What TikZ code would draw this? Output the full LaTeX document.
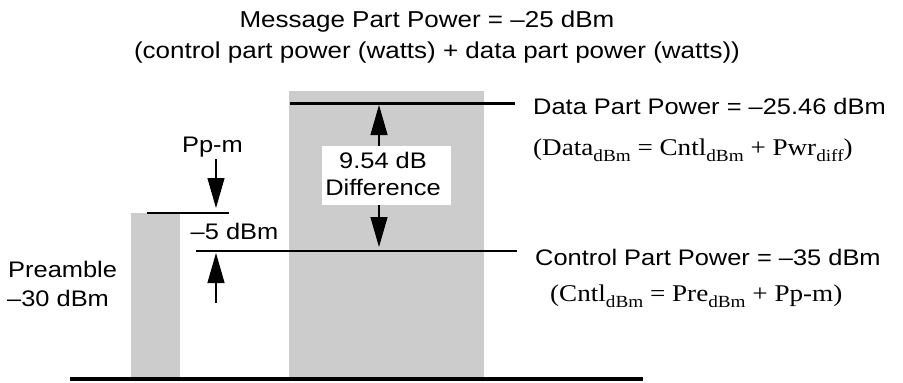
\documentclass[tikz,border=0pt]{standalone}
\usepackage{fontspec}
\setmainfont{Liberation Sans}
\newfontfamily\serifont{Liberation Serif}
\usetikzlibrary{arrows.meta}
\definecolor{barg}{RGB}{204,204,204}
\newcommand{\hs}[1]{\scalebox{1.13}[1]{#1}}
\newcommand{\sbs}[1]{\raisebox{-0.25em}{\fontsize{17}{17}\selectfont #1}}
\begin{document}
\begin{tikzpicture}[x=1pt,y=-1pt,
  lbl/.style={inner sep=0pt, font=\fontsize{22.5}{27}\selectfont},
  ttl/.style={inner sep=0pt, font=\fontsize{23}{28}\selectfont},
  ser/.style={inner sep=0pt, font=\serifont\fontsize{24}{28}\selectfont},
  lvl/.style={line width=2.5pt},
  dimarrow/.style={line width=1.1pt, -{Triangle[length=30pt,width=17pt]}}]
\useasboundingbox (0,0) rectangle (903,383);
% bars
\fill[barg] (131,213) rectangle (180,377);
\fill[barg] (289,91) rectangle (484,377);
% baseline
\coordinate (bl) at (70,379);
\coordinate (br) at (643,379);
\draw[line width=3.3pt] (bl) -- (br);
% level lines
\coordinate (preL) at (147,213);
\coordinate (preR) at (229,213);
\coordinate (ctlL) at (196,251);
\coordinate (ctlR) at (517,251);
\coordinate (datL) at (290,103.3);
\coordinate (datR) at (515,103.3);
\draw[lvl] (preL) -- (preR);
\draw[lvl] (ctlL) -- (ctlR);
\draw[lvl] (datL) -- (datR);
% difference box
\node[fill=white, minimum width=129pt, minimum height=59pt, inner sep=0pt] (diff) at (386.5,175.5) {};
\coordinate (dx) at (379,0);
\coordinate (dtop) at (379,105);
\coordinate (dbot) at (379,247);
\draw[dimarrow] (diff.north -| dx) -- (dtop);
\draw[dimarrow] (diff.south -| dx) -- (dbot);
% Pp-m arrows
\coordinate (pa1) at (216,159);
\coordinate (pa2) at (216,208);
\coordinate (pb1) at (216,303);
\coordinate (pb2) at (216,253);
\draw[dimarrow] (pa1) -- (pa2);
\draw[dimarrow] (pb1) -- (pb2);
% texts
\node[ttl, anchor=base] (t1) at (427,27) {\hs{Message Part Power = –25 dBm}};
\node[ttl, anchor=base] (t2) at (437,58) {\hs{(control part power (watts) + data part power (watts))}};
\node[lbl, anchor=base] (ppm) at (212.5,152) {\hs{Pp-m}};
\node[lbl, anchor=base] (m5) at (234.5,239) {\hs{–5 dBm}};
\node[lbl, anchor=base west] (pre1) at (8,277) {\hs{Preamble}};
\node[lbl, anchor=base west] (pre2) at (7,306) {\hs{–30 dBm}};
\node[lbl, anchor=base] (d1) at (383,168) {\hs{9.54 dB}};
\node[lbl, anchor=base] (d2) at (383,195) {\hs{Difference}};
\node[lbl, anchor=base west] (dp) at (533,114.5) {\hs{Data Part Power = –25.46 dBm}};
\node[ser, anchor=base west] (dpf) at (533,155) {\hs{(Data\sbs{dBm} = Cntl\sbs{dBm} + Pwr\sbs{diff})}};
\node[lbl, anchor=base west] (cp) at (535,265) {\hs{Control Part Power = –35 dBm}};
\node[ser, anchor=base west] (cpf) at (550,301) {\hs{(Cntl\sbs{dBm} = Pre\sbs{dBm} + Pp-m)}};
\end{tikzpicture}
\end{document}
